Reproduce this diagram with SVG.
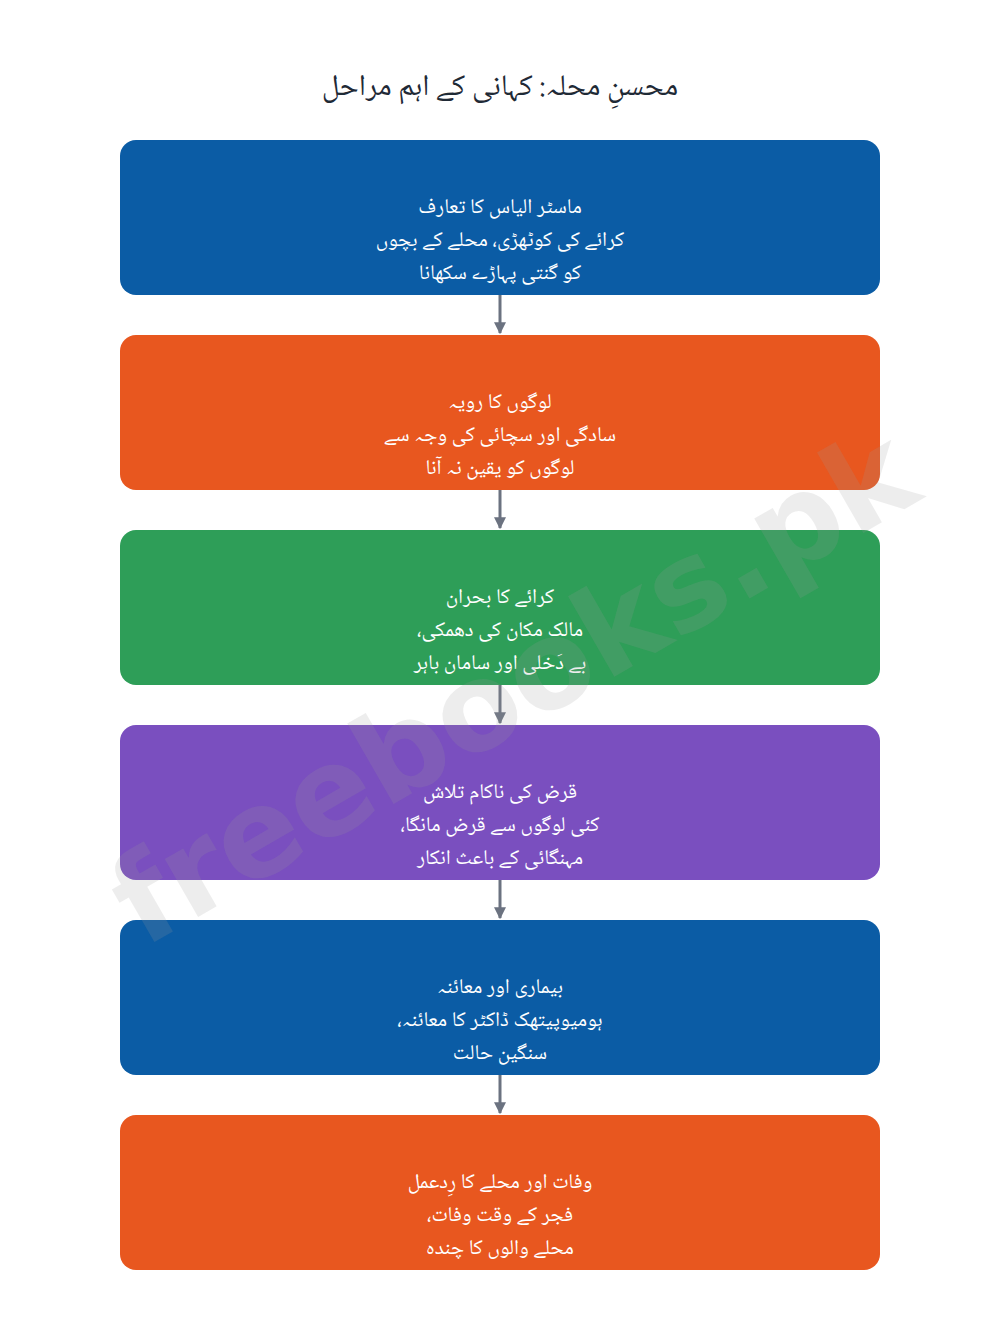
<svg xmlns="http://www.w3.org/2000/svg" width="1000" height="1330" viewBox="0 0 1000 1330">
<style>
.box{stroke:none}
.t{font-family:"Noto Naskh Arabic","Noto Sans Arabic","DejaVu Sans",sans-serif;fill:#ffffff;font-size:21px;text-anchor:middle;direction:rtl}
.title{font-family:"Noto Naskh Arabic","Noto Sans Arabic","DejaVu Sans",sans-serif;fill:#1f2a36;font-size:30px;text-anchor:middle;direction:rtl}
.conn{stroke:#6b7280;stroke-width:3;fill:none}
.wm{font-family:"DejaVu Sans",sans-serif;font-weight:bold;font-size:122px;fill:#9a9a9a;fill-opacity:0.18}
</style>
<defs>
<marker id="ah" viewBox="0 0 10 10" refX="9" refY="5" markerWidth="4" markerHeight="4" orient="auto" markerUnits="strokeWidth">
<path d="M0,0 L10,5 L0,10 z" fill="#6b7280"/>
</marker>
</defs>
<rect width="1000" height="1330" fill="#ffffff"/>
<text class="title" x="500" y="95">محسنِ محلہ: کہانی کے اہم مراحل</text>
<g id="connectors">
<line class="conn" x1="500" y1="295" x2="500" y2="333" marker-end="url(#ah)"/>
<line class="conn" x1="500" y1="490" x2="500" y2="528" marker-end="url(#ah)"/>
<line class="conn" x1="500" y1="685" x2="500" y2="723" marker-end="url(#ah)"/>
<line class="conn" x1="500" y1="880" x2="500" y2="918" marker-end="url(#ah)"/>
<line class="conn" x1="500" y1="1075" x2="500" y2="1113" marker-end="url(#ah)"/>
</g>
<g id="n1">
<rect class="box" x="120" y="140" width="760" height="155" rx="16" fill="#0b5ca5"/>
<text class="t" x="500" y="213">ماسٹر الیاس کا تعارف</text>
<text class="t" x="500" y="246">کرائے کی کوٹھڑی، محلے کے بچوں</text>
<text class="t" x="500" y="279">کو گنتی پہاڑے سکھانا</text>
</g>
<g id="n2">
<rect class="box" x="120" y="335" width="760" height="155" rx="16" fill="#e8571f"/>
<text class="t" x="500" y="408">لوگوں کا رویہ</text>
<text class="t" x="500" y="441">سادگی اور سچائی کی وجہ سے</text>
<text class="t" x="500" y="474">لوگوں کو یقین نہ آنا</text>
</g>
<g id="n3">
<rect class="box" x="120" y="530" width="760" height="155" rx="16" fill="#2e9e58"/>
<text class="t" x="500" y="603">کرائے کا بحران</text>
<text class="t" x="500" y="636">مالک مکان کی دھمکی،</text>
<text class="t" x="500" y="669">بے دَخلی اور سامان باہر</text>
</g>
<g id="n4">
<rect class="box" x="120" y="725" width="760" height="155" rx="16" fill="#7a4fbf"/>
<text class="t" x="500" y="798">قرض کی ناکام تلاش</text>
<text class="t" x="500" y="831">کئی لوگوں سے قرض مانگا،</text>
<text class="t" x="500" y="864">مہنگائی کے باعث انکار</text>
</g>
<g id="n5">
<rect class="box" x="120" y="920" width="760" height="155" rx="16" fill="#0b5ca5"/>
<text class="t" x="500" y="993">بیماری اور معائنہ</text>
<text class="t" x="500" y="1026">ہومیوپیتھک ڈاکٹر کا معائنہ،</text>
<text class="t" x="500" y="1059">سنگین حالت</text>
</g>
<g id="n6">
<rect class="box" x="120" y="1115" width="760" height="155" rx="16" fill="#e8571f"/>
<text class="t" x="500" y="1188">وفات اور محلے کا رِدعمل</text>
<text class="t" x="500" y="1221">فجر کے وقت وفات،</text>
<text class="t" x="500" y="1254">محلے والوں کا چندہ</text>
</g>
<text class="wm" x="515" y="728" text-anchor="middle" transform="rotate(-30 515 690)">freebooks.pk</text>
</svg>
